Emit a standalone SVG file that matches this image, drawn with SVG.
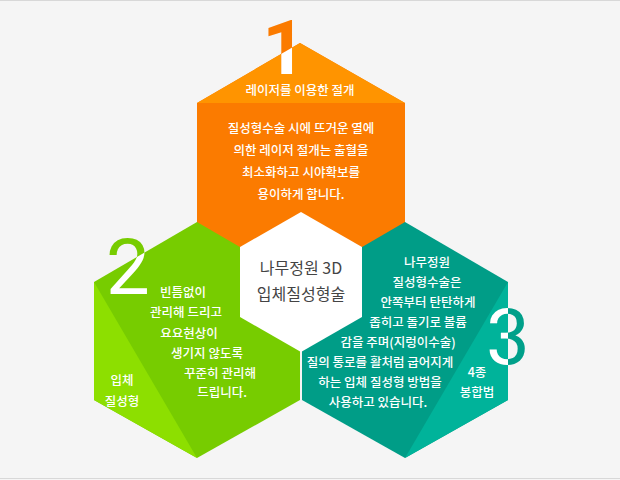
<svg xmlns="http://www.w3.org/2000/svg" width="620" height="480" viewBox="0 0 620 480">
<style>
text{font-family:"Noto Sans CJK KR","Noto Sans",sans-serif;text-anchor:middle;fill:#fff;font-size:12.5px;font-weight:500}
.c{fill:#444;font-size:16px;font-weight:400}
.n{font-family:Roboto,"Noto Sans",sans-serif;font-size:78px;font-weight:400}
.b{font-weight:700;font-size:76px}
</style>
<defs>
<clipPath id="ho"><polygon points="300,43 405,103 405,283 300,343 197,283 197,103"/></clipPath>
<clipPath id="hg"><polygon points="197,222 300,282 300,400 197,458 94,400 94,282"/></clipPath>
<clipPath id="ht"><polygon points="405,222 508,282 508,400 405,458 302,400 302,282"/></clipPath>
</defs>
<rect x="0" y="0" width="620" height="480" fill="#f5f5f5"/>
<line x1="0" y1="0.5" x2="620" y2="0.5" stroke="#d8d8d8"/>
<line x1="0" y1="478.5" x2="620" y2="478.5" stroke="#d8d8d8"/>
<g id="orange">
<polygon points="300,43 405,103 405,283 300,343 197,283 197,103" fill="#fb7b00"/>
<polygon points="300,43 405,103 197,103" fill="#ff9400"/>
<text class="n b" x="284" y="74" style="fill:#fb7b00">1</text>
<text class="n b" x="284" y="74" clip-path="url(#ho)">1</text>
<text x="300" y="95">레이저를 이용한 절개</text>
<text x="301" y="133">질성형수술 시에 뜨거운 열에</text>
<text x="301" y="155">의한 레이저 절개는 출혈을</text>
<text x="301" y="177">최소화하고 시야확보를</text>
<text x="301" y="199">용이하게 합니다.</text>
</g>
<g id="green">
<polygon points="197,222 300,282 300,400 197,458 94,400 94,282" fill="#77cc00"/>
<polygon points="94,282 197,458 94,400" fill="#8ddf00"/>
<text class="n" x="128" y="294" style="fill:#77cc00">2</text>
<text class="n" x="128" y="294" clip-path="url(#hg)">2</text>
<text x="183" y="297">빈틈없이</text>
<text x="186" y="317">관리해 드리고</text>
<text x="189" y="338">요요현상이</text>
<text x="207" y="358">생기지 않도록</text>
<text x="220" y="378">꾸준히 관리해</text>
<text x="222" y="397">드립니다.</text>
<text x="122" y="385">입체</text>
<text x="122" y="406">질성형</text>
</g>
<g id="teal">
<polygon points="405,222 508,282 508,400 405,458 302,400 302,282" fill="#009d87"/>
<polygon points="508,282 405,458 508,400" fill="#00b39a"/>
<text class="n" x="508" y="364" style="fill:#00a08a">3</text>
<text class="n" x="508" y="364" clip-path="url(#ht)">3</text>
<text x="427" y="267">나무정원</text>
<text x="427" y="287">질성형수술은</text>
<text x="428" y="307">안쪽부터 탄탄하게</text>
<text x="418" y="327">좁히고 돌기로 볼륨</text>
<text x="398" y="347">감을 주며(지렁이수술)</text>
<text x="380" y="367">질의 통로를 활처럼 굽어지게</text>
<text x="380" y="387">하는 입체 질성형 방법을</text>
<text x="378" y="407">사용하고 있습니다.</text>
<text x="477" y="377">4종</text>
<text x="477" y="397">봉합법</text>
</g>
<g id="center">
<polygon points="301,212 362,247 362,317 301,352 240,317 240,247" fill="#fff"/>
<text class="c" x="301" y="274">나무정원 3D</text>
<text class="c" x="301" y="300">입체질성형술</text>
</g>
<g id="connectors"/>
</svg>
